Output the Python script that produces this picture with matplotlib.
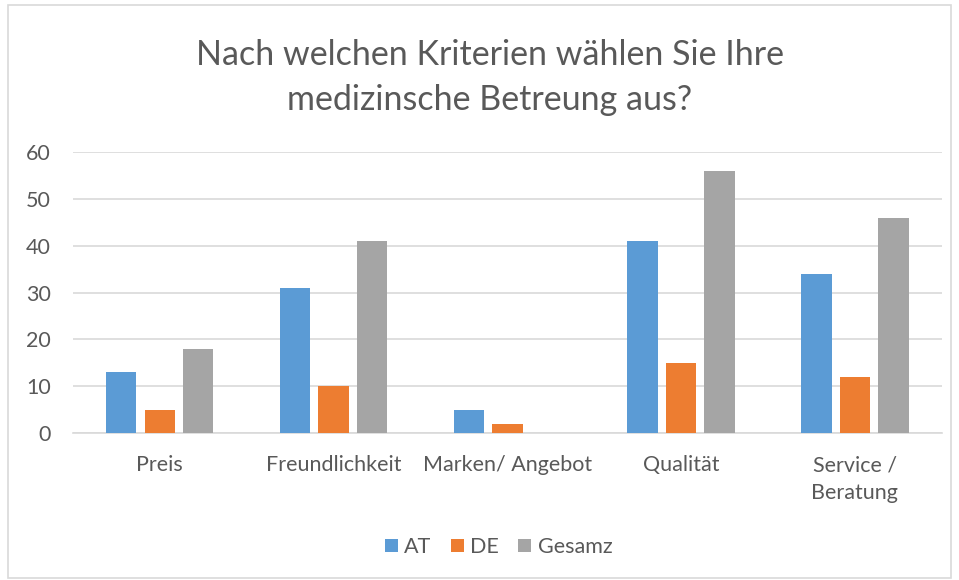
import matplotlib.pyplot as plt
import numpy as np
from matplotlib.patches import Rectangle

categories = ['Preis', 'Freundlichkeit', 'Marken/ Angebot', 'Qualität', 'Service /\nBeratung']
at_values = [13, 31, 5, 41, 34]
de_values = [5, 10, 2, 15, 12]
gesamz_values = [18, 41, 0, 56, 46]
series_names = ['AT', 'DE', 'Gesamz']
colors = ['#5b9bd5', '#ed7d31', '#a5a5a5']

plt.rcParams['font.family'] = ['Lato', 'DejaVu Sans']
text_color = '#595959'

fig = plt.figure(figsize=(9.59, 5.8), dpi=100)
ax = fig.add_axes([0.076, 0.2534, 0.906, 0.4845])

x = np.arange(len(categories))
step = 0.2215
width = 0.175
for i, (vals, name, col) in enumerate(zip([at_values, de_values, gesamz_values], series_names, colors)):
    ax.bar(x + (i - 1) * step, vals, width=width, color=col, label=name, zorder=3)

ax.set_xlim(-0.5, len(categories) - 0.5)
ax.set_ylim(0, 60)
ax.set_yticks(range(0, 61, 10))
ax.yaxis.grid(True, color='#d9d9d9', linewidth=1.2, zorder=0)
for s in ['top', 'right', 'left']:
    ax.spines[s].set_visible(False)
ax.spines['bottom'].set_color('#d9d9d9')
ax.spines['bottom'].set_linewidth(1.2)
ax.set_xticks(x)
ax.set_xticklabels(categories, fontsize=15.5, color=text_color, linespacing=1.5)
ax.tick_params(axis='both', length=0, labelsize=15.5, labelcolor=text_color)
ax.tick_params(axis='x', pad=16)
ax.tick_params(axis='y', pad=16)

fig.text(0.511, 0.866, 'Nach welchen Kriterien wählen Sie Ihre\nmedizinsche Betreung aus?',
         ha='center', va='center', fontsize=24.5, color=text_color, linespacing=1.5)

ax.legend(loc='center', bbox_to_anchor=(0.49, -0.406), bbox_transform=ax.transAxes,
          ncol=3, frameon=False, fontsize=15.5, labelcolor=text_color,
          handlelength=0.6, handleheight=0.6, handletextpad=0.3, columnspacing=0.9)

fig.patches.append(Rectangle((8 / 959, 2 / 580), 1 - 16 / 959, 1 - 7 / 580, transform=fig.transFigure,
                             fill=False, edgecolor='#d9d9d9', linewidth=1.2))

fig.savefig('out.png', dpi=100)
